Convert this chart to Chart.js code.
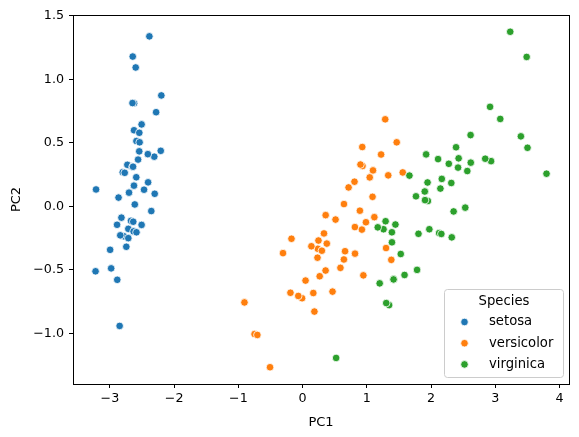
<!DOCTYPE html>
<html>
<head>
<meta charset="utf-8">
<script src="https://cdn.jsdelivr.net/npm/chart.js@4"></script>
<style>
  html, body { margin: 0; padding: 0; background: #fff; }
  #wrap { width: 579px; height: 437px; }
</style>
</head>
<body>
<div id="wrap"><canvas id="scatter" width="579" height="437"></canvas></div>
<script>
var species = ['setosa', 'versicolor', 'virginica'];
var colors = ['#1f77b4', '#ff7f0e', '#2ca02c'];

var setosaPC1 = [-2.684,-2.714,-2.889,-2.745,-2.729,-2.281,-2.821,-2.626,-2.886,-2.673,-2.507,-2.613,-2.786,-3.224,-2.645,-2.386,-2.624,-2.648,-2.200,-2.588,-2.310,-2.544,-3.216,-2.303,-2.356,-2.507,-2.469,-2.562,-2.640,-2.632,-2.587,-2.410,-2.649,-2.599,-2.637,-2.866,-2.625,-2.801,-2.981,-2.590,-2.770,-2.849,-2.997,-2.406,-2.209,-2.714,-2.538,-2.839,-2.543,-2.703];
var setosaPC2 = [0.319,-0.177,-0.145,-0.318,0.327,0.741,-0.089,0.163,-0.578,-0.114,0.645,0.015,-0.235,-0.511,1.179,1.338,0.811,0.312,0.873,0.514,0.391,0.433,0.133,0.099,-0.037,-0.146,0.131,0.368,0.312,-0.197,-0.204,0.411,0.813,1.093,-0.121,0.069,0.599,0.269,-0.488,0.229,0.264,-0.941,-0.342,0.189,0.437,-0.250,0.504,-0.228,0.579,0.108];

var versicolorPC1 = [1.285,0.932,1.464,0.183,1.088,0.642,1.095,-0.749,1.044,-0.009,-0.508,0.512,0.265,0.985,-0.174,0.928,0.660,0.236,0.945,0.045,1.116,0.358,1.298,0.922,0.715,0.900,1.332,1.558,0.813,-0.306,-0.068,-0.190,0.136,1.380,0.588,0.807,1.221,0.815,0.246,0.166,0.465,0.891,0.231,-0.705,0.357,0.332,0.376,0.643,-0.906,0.299];
var versicolorPC2 = [0.685,0.318,0.504,-0.828,0.075,-0.418,0.283,-1.005,0.228,-0.723,-1.266,-0.104,-0.550,-0.125,-0.255,0.467,-0.353,-0.334,-0.543,-0.584,-0.085,-0.069,-0.328,-0.183,0.149,0.329,0.244,0.267,-0.163,-0.368,-0.705,-0.680,-0.314,-0.421,-0.484,0.194,0.408,-0.372,-0.269,-0.682,-0.671,-0.034,-0.404,-1.012,-0.505,-0.213,-0.293,0.018,-0.756,-0.349];

var virginicaPC1 = [2.531,1.415,2.617,1.972,2.350,3.397,0.521,2.933,2.321,2.917,1.662,1.803,2.166,1.346,1.586,1.904,1.950,3.487,3.796,1.301,2.428,1.199,3.500,1.389,2.275,2.614,1.259,1.291,2.124,2.388,2.842,3.231,2.159,1.444,1.781,3.076,2.144,1.905,1.169,2.108,2.314,1.922,1.415,2.563,2.419,1.944,1.527,1.764,1.901,1.390];
var virginicaPC2 = [-0.010,-0.575,0.344,-0.180,-0.040,0.551,-1.193,0.356,-0.244,0.783,0.242,-0.216,0.216,-0.777,-0.540,0.119,0.042,1.176,0.257,-0.761,0.378,-0.606,0.461,-0.204,0.335,0.561,-0.180,-0.117,-0.210,0.465,0.375,1.374,-0.217,-0.143,-0.500,0.688,0.140,0.049,-0.165,0.372,0.184,0.409,-0.575,0.278,0.305,0.188,-0.375,0.079,0.117,-0.283];

var xTicks = [-3, -2, -1, 0, 1, 2, 3, 4];
var yTicks = [-1.0, -0.5, 0.0, 0.5, 1.0, 1.5];

function pts(xs, ys) {
  return xs.map(function (x, i) { return {x: x, y: ys[i]}; });
}
var seriesX = [setosaPC1, versicolorPC1, virginicaPC1];
var seriesY = [setosaPC2, versicolorPC2, virginicaPC2];

var tickFont = {family: 'DejaVu Sans', size: 12.7};
var titleFont = {family: 'DejaVu Sans', size: 13};
function minus(s) { return String(s).replace('-', '\u2212'); }

// frame round the plot area
var frame = {
  id: 'frame',
  afterDatasetsDraw: function (chart) {
    var a = chart.chartArea, c = chart.ctx;
    c.save();
    c.strokeStyle = '#000';
    c.lineWidth = 1;
    c.strokeRect(Math.round(a.left) + 0.5, Math.round(a.top) + 0.5, Math.round(a.right - a.left), Math.round(a.bottom - a.top));
    c.restore();
  }
};

// legend box in the lower right corner, like seaborn
var boxLegend = {
  id: 'boxLegend',
  afterDraw: function (chart) {
    var a = chart.chartArea, c = chart.ctx;
    var w = 119, h = 88;
    var x = a.right - 6 - w, y = a.bottom - 7 - h;
    c.save();
    c.beginPath();
    c.roundRect(x + 0.5, y + 0.5, w, h, 3);
    c.fillStyle = 'rgba(255,255,255,0.8)';
    c.fill();
    c.strokeStyle = '#cccccc';
    c.lineWidth = 1;
    c.stroke();
    c.font = '13.2px "DejaVu Sans"';
    c.fillStyle = '#000';
    c.textBaseline = 'middle';
    c.textAlign = 'center';
    c.fillText('Species', x + w / 2 + 0.5, y + 12.5);
    c.textAlign = 'left';
    for (var i = 0; i < species.length; i++) {
      var ry = y + 33 + i * 21.2;
      c.beginPath();
      c.arc(x + 20.5, ry, 3.8, 0, Math.PI * 2);
      c.fillStyle = colors[i];
      c.fill();
      c.strokeStyle = '#fff';
      c.lineWidth = 0.8;
      c.stroke();
      c.fillStyle = '#000';
      c.fillText(species[i], x + 45, ry);
    }
    c.restore();
  }
};

new Chart(document.getElementById('scatter'), {
  type: 'scatter',
  data: {
    datasets: species.map(function (s, i) {
      return {
        label: s,
        data: pts(seriesX[i], seriesY[i]),
        backgroundColor: colors[i],
        borderColor: '#ffffff',
        borderWidth: 0.8,
        pointRadius: 3.8,
        order: 3 - i
      };
    })
  },
  options: {
    responsive: false,
    animation: false,
    events: [],
    layout: {padding: {top: 15, right: 10, left: 0, bottom: 0}},
    plugins: {legend: {display: false}, tooltip: {enabled: false}},
    scales: {
      x: {
        type: 'linear',
        min: -3.575,
        max: 4.146,
        bounds: 'data',
        afterFit: function (s) { s.height = 53; },
        border: {display: true, color: '#000', width: 1},
        grid: {display: true, drawOnChartArea: false, drawTicks: true, tickLength: 4, tickColor: '#000'},
        afterBuildTicks: function (s) { s.ticks = xTicks.map(function (v) { return {value: v}; }); },
        ticks: {
          font: tickFont, color: '#000', padding: 3, maxRotation: 0, autoSkip: false,
          callback: function (v) { return minus(v); }
        },
        title: {display: true, text: 'PC1', font: titleFont, color: '#000', padding: {top: 0, bottom: 7}}
      },
      y: {
        type: 'linear',
        min: -1.398,
        max: 1.506,
        bounds: 'data',
        afterFit: function (s) { s.width = 73; },
        border: {display: true, color: '#000', width: 1},
        grid: {display: true, drawOnChartArea: false, drawTicks: true, tickLength: 4, tickColor: '#000'},
        afterBuildTicks: function (s) { s.ticks = yTicks.map(function (v) { return {value: v}; }); },
        ticks: {
          font: tickFont, color: '#000', padding: 5, autoSkip: false,
          callback: function (v) { return minus(Number(v).toFixed(1)); }
        },
        title: {display: true, text: 'PC2', font: titleFont, color: '#000', padding: {top: 9, bottom: 0}}
      }
    }
  },
  plugins: [frame, boxLegend]
});
</script>
</body>
</html>
